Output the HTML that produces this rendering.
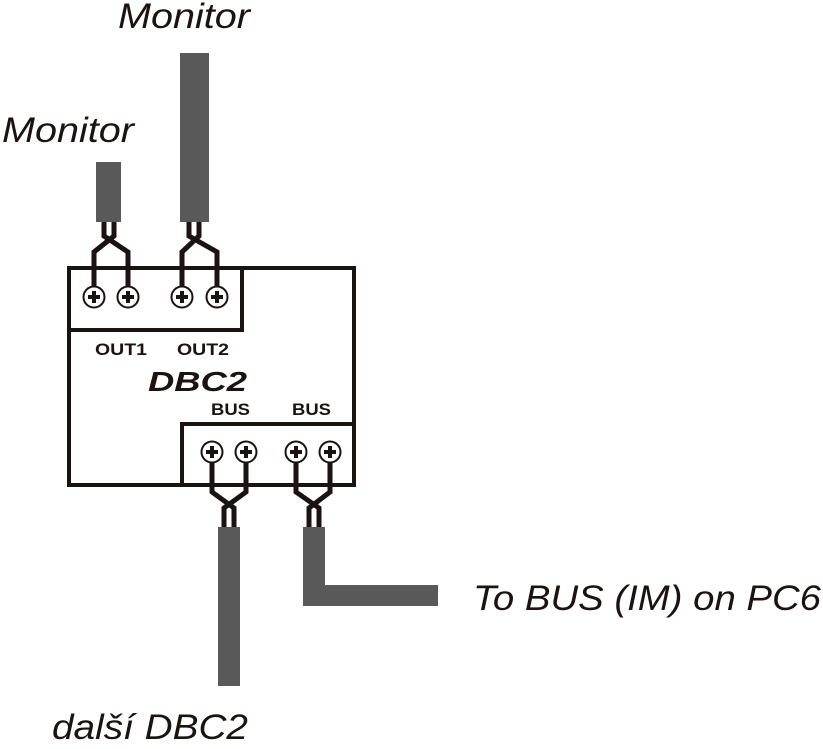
<!DOCTYPE html>
<html><head><style>html,body{margin:0;padding:0;background:#fff}</style></head>
<body>
<svg width="823" height="744" viewBox="0 0 823 744" xmlns="http://www.w3.org/2000/svg" font-family="Liberation Sans, sans-serif">
<g fill="#595959">
<rect x="96" y="162" width="25" height="60"/>
<rect x="180" y="53" width="29" height="169"/>
<rect x="218" y="527" width="22" height="159"/>
<rect x="303" y="527" width="22" height="79"/>
<rect x="303" y="585" width="135" height="21"/>
</g>
<g fill="none" stroke="#1a1311" stroke-width="5" stroke-linejoin="miter">
<polyline points="104,222 104,236 128,252 128,287"/>
<polyline points="114,222 114,236 94,252 94,287"/>
<polyline points="189,222 189,236 217,252 217,287"/>
<polyline points="199,222 199,236 182,252 182,287"/>
<polyline points="212,462 212,492 234,508 234,527"/>
<polyline points="246,462 246,492 224,508 224,527"/>
<polyline points="296,462 296,492 319,508 319,527"/>
<polyline points="330,462 330,492 309,508 309,527"/>
</g>
<g fill="none" stroke="#1a1311" stroke-width="4">
<rect x="69" y="268" width="285" height="217"/>
<rect x="69" y="268" width="173" height="62"/>
<rect x="182" y="424" width="172" height="61"/>
</g>
<g stroke="#1a1311">
<g fill="#fff" stroke-width="2">
<circle cx="94" cy="297" r="10.5"/><circle cx="128" cy="297" r="10.5"/><circle cx="182" cy="297" r="10.5"/><circle cx="217" cy="297" r="10.5"/>
<circle cx="212" cy="452" r="10.5"/><circle cx="246" cy="452" r="10.5"/><circle cx="296" cy="452" r="10.5"/><circle cx="330" cy="452" r="10.5"/>
</g>
<g stroke-width="4" fill="none">
<path d="M88 297h12M94 291v12M122 297h12M128 291v12M176 297h12M182 291v12M211 297h12M217 291v12"/>
<path d="M206 452h12M212 446v12M240 452h12M246 446v12M290 452h12M296 446v12M324 452h12M330 446v12"/>
</g>
</g>
<g fill="#1a1311">
<text x="118" y="28" font-size="35" font-style="italic" textLength="132" lengthAdjust="spacingAndGlyphs">Monitor</text>
<text x="2" y="142" font-size="35" font-style="italic" textLength="132" lengthAdjust="spacingAndGlyphs">Monitor</text>
<text x="95" y="355" font-size="17" font-weight="bold" textLength="52" lengthAdjust="spacingAndGlyphs">OUT1</text>
<text x="177" y="355" font-size="17" font-weight="bold" textLength="52" lengthAdjust="spacingAndGlyphs">OUT2</text>
<text x="148" y="391" font-size="28" font-weight="bold" font-style="italic" textLength="99" lengthAdjust="spacingAndGlyphs">DBC2</text>
<text x="211" y="415" font-size="17" font-weight="bold" textLength="39" lengthAdjust="spacingAndGlyphs">BUS</text>
<text x="292" y="415" font-size="17" font-weight="bold" textLength="39" lengthAdjust="spacingAndGlyphs">BUS</text>
<text x="473" y="610" font-size="35" font-style="italic" textLength="348" lengthAdjust="spacingAndGlyphs">To BUS (IM) on PC6</text>
<text x="52" y="739" font-size="35" font-style="italic" textLength="196" lengthAdjust="spacingAndGlyphs">další DBC2</text>
</g>
</svg>
</body></html>
